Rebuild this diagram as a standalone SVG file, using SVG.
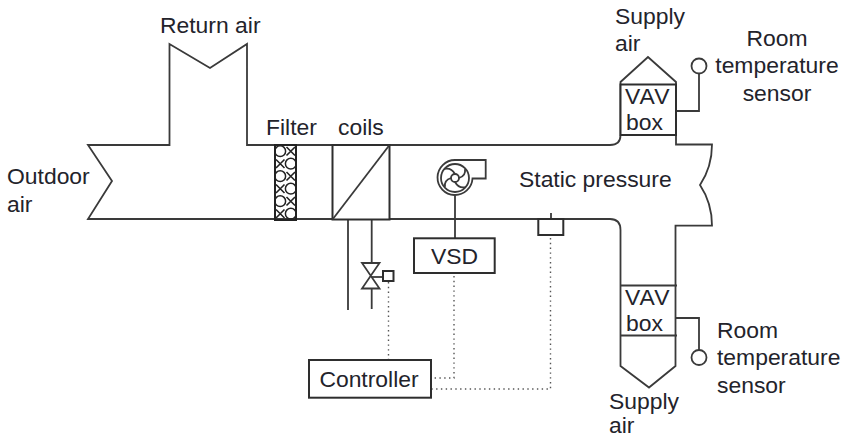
<svg xmlns="http://www.w3.org/2000/svg" width="843" height="438" viewBox="0 0 843 438">
<defs>
<style>
.l{fill:none;stroke:#3a3a3a;stroke-width:1.8}
.b{fill:#fff;stroke:#2e2e2e;stroke-width:2}
.d{fill:none;stroke:#555;stroke-width:1.4;stroke-dasharray:1.4 3.4}
.t{font-family:"Liberation Sans",Arial,sans-serif;font-size:22.9px;fill:#23232b}
.c{text-anchor:middle}
</style>
<pattern id="mesh" width="21" height="25" patternUnits="userSpaceOnUse" x="275" y="145">
<path d="M11.500 2L20 10.500M20 2L11.500 10.500M1 14.500L9.500 23M9.500 14.500L1 23" stroke="#222" stroke-width="1.600" fill="none"/>
<circle cx="5.200" cy="6.200" r="5.400" fill="none" stroke="#222" stroke-width="1.500"/>
<circle cx="15.800" cy="18.700" r="5.400" fill="none" stroke="#222" stroke-width="1.500"/>
</pattern>
</defs>
<rect width="843" height="438" fill="#fff"/>
<g id="connectors">
<path class="l" d="M88 145H169.500V44L210 68L247 44V145H610Q620.500 145 620.500 135V82L648 57L676 82V144.500H712Q712 167 700 185Q712 203 712 225.700H675.500V366L649 387.500L620.500 366V230Q620.500 219 610 219H88L112 181Z"/>
<path class="l" d="M676 111H699V74M676 318H699V350"/>
<path class="l" d="M348 220V310M371.700 220V263M371.700 288V309M455 196V238M551 213V219"/>
<path class="l" d="M371.500 277H383"/>
<path class="d" d="M388.500 282V359M454 276V378H432M550.500 238V389H432"/>
</g>
<g id="outdoor-air"><text class="t" x="7" y="184">Outdoor</text><text class="t" x="7" y="212">air</text></g>
<g id="return-air"><text class="t" x="160" y="33">Return air</text></g>
<g id="filter"><rect x="275" y="145" width="21" height="75" fill="url(#mesh)" stroke="#222" stroke-width="2"/><text class="t" x="266" y="135">Filter</text></g>
<g id="coils"><rect class="b" x="332.500" y="145" width="57" height="74.500"/><path class="l" d="M332.500 219.500L389.500 145"/><text class="t" x="338" y="135">coils</text></g>
<g id="fan">
<path class="l" d="M455 160H485.700V178.500H472.500A17.500 17.500 0 1 1 455 160Z"/>
<circle class="l" cx="455" cy="178" r="14"/>
<circle class="l" cx="455" cy="178" r="4"/>
<path class="l" d="M455 174Q451 167 444 169M459 178Q466 176 465 169M455 182Q459 189 466 187M451 178Q444 180 445 187"/>
</g>
<g id="vsd"><rect class="b" x="414" y="238.300" width="80.700" height="34.700"/><text class="t c" x="454.500" y="264">VSD</text></g>
<g id="static-pressure"><rect class="b" x="538.300" y="219" width="25" height="16"/><text class="t" x="519" y="187">Static pressure</text></g>
<g id="valve">
<path class="l" d="M362 263H379.500L362 288.500H379.500Z"/>
<rect class="b" x="383" y="271" width="10.500" height="10"/>
</g>
<g id="controller"><rect class="b" x="309" y="360" width="122" height="37.700"/><text class="t c" x="369" y="387">Controller</text></g>
<g id="vav-top"><rect class="b" x="620.500" y="84.500" width="55.500" height="50.500"/><text class="t" x="625" y="104" style="letter-spacing:1px">VAV</text><text class="t" x="626" y="130">box</text></g>
<g id="vav-bottom"><path class="l" d="M620 285.500H677M620 335.500H677"/><text class="t" x="625" y="305" style="letter-spacing:1px">VAV</text><text class="t" x="626" y="331">box</text></g>
<g id="sensor-top"><circle class="l" cx="699" cy="66" r="7.500"/><text class="t c" x="777" y="46">Room</text><text class="t c" x="777" y="73">temperature</text><text class="t c" x="777" y="101">sensor</text></g>
<g id="sensor-bottom"><circle class="l" cx="699" cy="357.500" r="7.500"/><text class="t" x="717" y="338">Room</text><text class="t" x="717" y="365">temperature</text><text class="t" x="717" y="393">sensor</text></g>
<g id="supply-top"><text class="t" x="615" y="24">Supply</text><text class="t" x="615" y="51">air</text></g>
<g id="supply-bottom"><text class="t" x="609" y="409">Supply</text><text class="t" x="609" y="433">air</text></g>
</svg>
